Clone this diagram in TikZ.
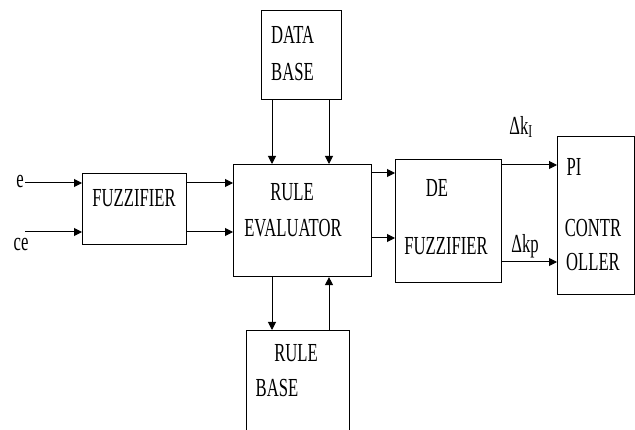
\documentclass[tikz,border=0pt]{standalone}
\usepackage{fontspec}
\setmainfont[FakeStretch=0.64]{Liberation Serif}
\usetikzlibrary{arrows.meta}
\begin{document}
\begin{tikzpicture}[x=1pt,y=-1pt,
  blk/.style={draw, line width=1.1pt, anchor=north west, inner sep=0pt},
  lbl/.style={inner sep=0pt, font=\fontsize{26}{28}\selectfont},
  arr/.style={line width=1pt, -{Triangle[length=8pt,width=8pt]}}]
\useasboundingbox (0,0) rectangle (635,430);
% boxes
\node[blk, minimum width=104pt, minimum height=71pt] (fuzz) at (82,173) {};
\node[blk, minimum width=80pt, minimum height=89pt] (db) at (261,10) {};
\node[blk, minimum width=138pt, minimum height=112pt] (re) at (233,164) {};
\node[blk, minimum width=103pt, minimum height=106pt] (rb) at (246,330) {};
\node[blk, minimum width=106pt, minimum height=123pt] (def) at (395,159) {};
\node[blk, minimum width=77pt, minimum height=158pt] (pi) at (557,136) {};
% texts
\node[lbl] (te) at (20,182) {e};
\node[lbl] (tce) at (21,245) {ce};
\node[lbl] at (134,198) {FUZZIFIER};
\node[lbl, anchor=west] at (271,35) {DATA};
\node[lbl, anchor=west] at (271,72) {BASE};
\node[lbl] at (292,192) {RULE};
\node[lbl] at (293,228) {EVALUATOR};
\node[lbl] at (296,353) {RULE};
\node[lbl] at (277,388) {BASE};
\node[lbl] at (437,188) {DE};
\node[lbl] at (446,246) {FUZZIFIER};
\node[lbl] at (574,167) {PI};
\node[lbl] at (593,228) {CONTR};
\node[lbl] at (593,262) {OLLER};
\node[lbl] at (521,127) {Δk\textsubscript{I}};
\node[lbl] at (525,246) {Δkp};
% connectors
\coordinate (ein) at (25,183);
\coordinate (cein) at (25,232);
\draw[arr] (ein) -- (ein -| fuzz.west);
\draw[arr] (cein) -- (cein -| fuzz.west);
\draw[arr] (ein -| fuzz.east) -- (ein -| re.west);
\draw[arr] (cein -| fuzz.east) -- (cein -| re.west);
\coordinate (c1) at (272,0);
\coordinate (c2) at (329,0);
\draw[arr] (c1 |- db.south) -- (c1 |- re.north);
\draw[arr] (c2 |- db.south) -- (c2 |- re.north);
\draw[arr] (c1 |- re.south) -- (c1 |- rb.north);
\draw[arr] (c2 |- rb.north) -- (c2 |- re.south);
\coordinate (r1) at (0,173);
\coordinate (r2) at (0,238);
\draw[arr] (r1 -| re.east) -- (r1 -| def.west);
\draw[arr] (r2 -| re.east) -- (r2 -| def.west);
\coordinate (d1) at (0,165);
\coordinate (d2) at (0,262);
\draw[arr] (d1 -| def.east) -- (d1 -| pi.west);
\draw[arr] (d2 -| def.east) -- (d2 -| pi.west);
\end{tikzpicture}
\end{document}
